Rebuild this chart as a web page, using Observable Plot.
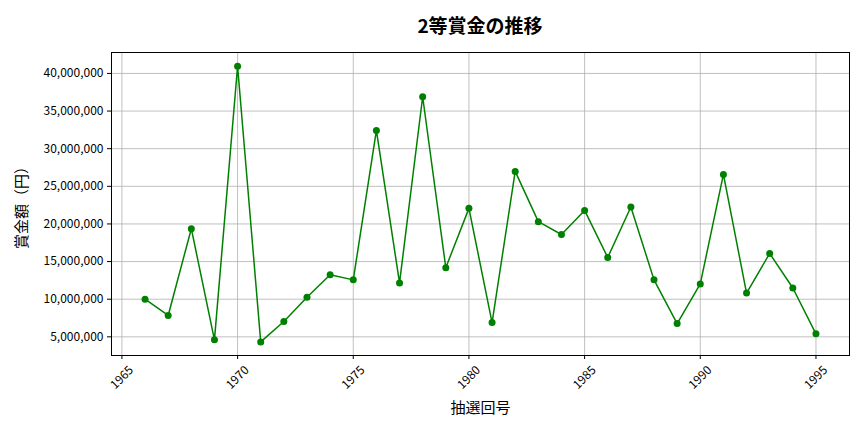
<!DOCTYPE html>
<html>
<head>
<meta charset="utf-8">
<script src="https://cdn.jsdelivr.net/npm/d3@7"></script>
<script src="https://cdn.jsdelivr.net/npm/@observablehq/plot@0.6"></script>
<style>
  html, body { margin: 0; padding: 0; background: #fff; }
  body { width: 864px; height: 432px; overflow: hidden; font-family: "Noto Sans CJK JP", "Noto Sans", sans-serif; }
  #title { height: 44px; box-sizing: border-box; padding-top: 12px; text-align: center; font-size: 19px; font-weight: bold; line-height: 26px; padding-left: 96px; color: #000; }
</style>
</head>
<body>
<div id="title">2等賞金の推移</div>
<div id="chart"></div>
<script>
const years = [1966,1967,1968,1969,1970,1971,1972,1973,1974,1975,1976,1977,1978,1979,1980,1981,1982,1983,1984,1985,1986,1987,1988,1989,1990,1991,1992,1993,1994,1995];
const prizes = [10000000,7840000,19370000,4600000,40950000,4330000,7030000,10270000,13240000,12570000,32430000,12160000,36900000,14190000,22070000,6890000,26980000,20300000,18600000,21800000,15540000,22250000,12570000,6760000,12030000,26580000,10810000,16080000,11490000,5400000];
const xTicks = [1965,1970,1975,1980,1985,1990,1995];
const yTicks = [5000000,10000000,15000000,20000000,25000000,30000000,35000000,40000000];
const xLabel = "抽選回号";
const yLabel = "賞金額（円）";

const data = years.map((y, i) => ({year: y, prize: prizes[i]}));
const fmt = d3.format(",");

const chart = Plot.plot({
  width: 864,
  height: 388,
  marginTop: 8,
  marginBottom: 77,
  marginLeft: 111,
  marginRight: 15,
  style: {fontFamily: '"Noto Sans CJK JP", "Noto Sans", sans-serif', fontSize: "12px", color: "#000", background: "#fff"},
  x: {domain: [1964.55, 1996.45], label: null},
  y: {domain: [2520000, 42780000], label: null},
  marks: [
    Plot.gridX(xTicks, {stroke: "#b0b0b0", strokeOpacity: 1, strokeWidth: 0.8}),
    Plot.gridY(yTicks, {stroke: "#b0b0b0", strokeOpacity: 1, strokeWidth: 0.8}),
    Plot.axisX(xTicks, {tickFormat: () => "", tickSize: 4}),
    Plot.text(xTicks, {x: d => d, text: d => String(d), frameAnchor: "bottom", dy: 22, rotate: -45, textAnchor: "middle", lineAnchor: "middle", fontSize: 12}),
    Plot.axisY(yTicks, {tickFormat: fmt, tickSize: 4, fontSize: 12, tickPadding: 4}),
    Plot.frame({stroke: "#000", strokeWidth: 1}),
    Plot.line(data, {x: "year", y: "prize", stroke: "#008000", strokeWidth: 1.5}),
    Plot.dot(data, {x: "year", y: "prize", fill: "#008000", r: 3.5}),
    Plot.text([xLabel], {text: d => d, frameAnchor: "bottom", dy: 53, lineAnchor: "middle", fontSize: 15}),
    Plot.text([yLabel], {text: d => d, frameAnchor: "left", dx: -89, rotate: -90, textAnchor: "middle", lineAnchor: "middle", fontSize: 15})
  ]
});
document.getElementById("chart").appendChild(chart);
</script>
</body>
</html>
